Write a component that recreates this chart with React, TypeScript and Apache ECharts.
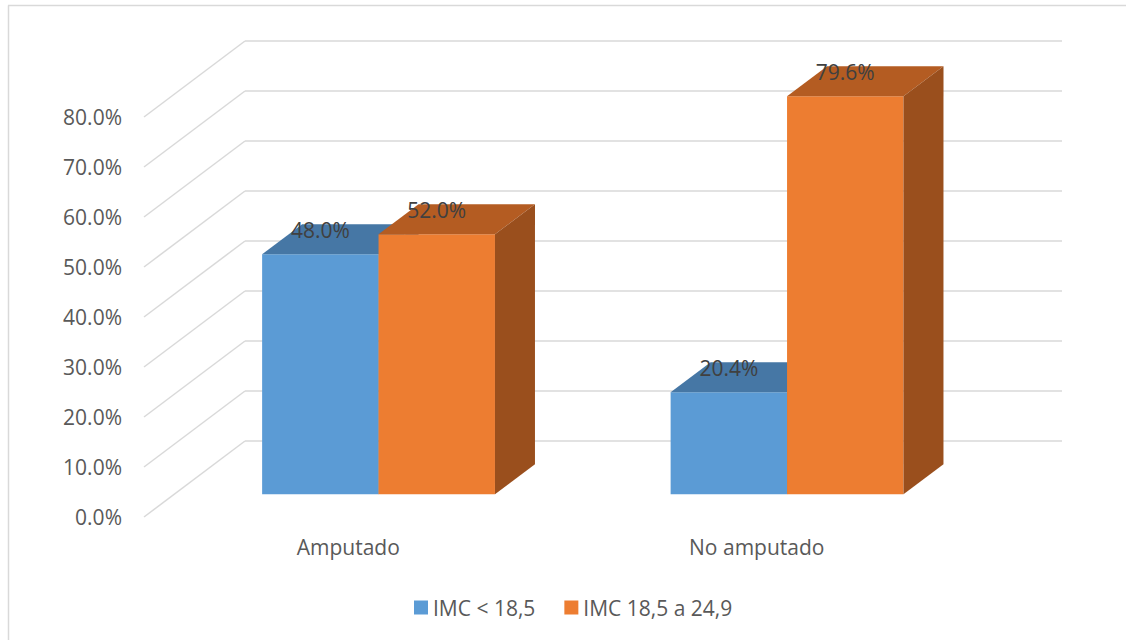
import React, { useEffect, useRef } from "react";
import * as echarts from "echarts";

const categories = ["Amputado", "No amputado"];
const seriesNames = ["IMC < 18,5", "IMC 18,5 a 24,9"];
const imcBajo = [48.0, 20.4];
const imcNormal = [52.0, 79.6];
const yTicks = [0, 10, 20, 30, 40, 50, 60, 70, 80];

const FONT = "'Open Sans', sans-serif";
const DX = 101; // full depth offset x
const DY = 76; // full depth offset y
const FRONT = 0.3; // bar front depth fraction
const BDX = 40; // bar depth x
const BDY = 30; // bar depth y
const BAR_FRAC = 0.285;

const faceColors = [
  { front: "#5B9BD5", top: "#4677A5", side: "#41709C" },
  { front: "#ED7D31", top: "#B45C22", side: "#9A4F1D" },
];

export default function App() {
  const ref = useRef<HTMLDivElement>(null);
  useEffect(() => {
    if (!ref.current) return;
    const chart = echarts.init(ref.current, null, { renderer: "svg" });

    const barSeries = (values: number[], s: number) => ({
      type: "custom",
      name: seriesNames[s],
      clip: false,
      z: 3 + s,
      itemStyle: { color: faceColors[s].front },
      encode: { x: 0, y: 1 },
      data: values.map((v, i) => [i, v]),
      renderItem: (params: any, api: any) => {
        const cat = api.value(0);
        const v = api.value(1);
        const top = api.coord([cat, v]);
        const base = api.coord([cat, 0]);
        const band = api.size([1, 0])[0];
        const barW = band * BAR_FRAC;
        const fx = FRONT * DX;
        const fy = FRONT * DY;
        const xl = top[0] + (s === 0 ? -barW : 0) + fx;
        const xr = xl + barW;
        const ty = top[1] - fy;
        const by = base[1] - fy;
        const c = faceColors[s];
        return {
          type: "group",
          children: [
            {
              type: "polygon",
              shape: { points: [[xl, ty], [xr, ty], [xr, by], [xl, by]] },
              style: { fill: c.front },
            },
            {
              type: "polygon",
              shape: { points: [[xl, ty], [xr, ty], [xr + BDX, ty - BDY], [xl + BDX, ty - BDY]] },
              style: { fill: c.top },
            },
            {
              type: "polygon",
              shape: { points: [[xr, ty], [xr + BDX, ty - BDY], [xr + BDX, by - BDY], [xr, by]] },
              style: { fill: c.side },
            },
            {
              type: "text",
              z2: 10,
              style: {
                x: (xl + xr) / 2,
                y: ty - 24,
                text: v.toFixed(1) + "%",
                fill: "#404040",
                font: `21px ${FONT}`,
                align: "center",
                verticalAlign: "middle",
              },
            },
          ],
        };
      },
    });

    const option: any = {
      animation: false,
      color: [faceColors[0].front, faceColors[1].front],
      grid: { left: 144, right: 165, top: 117, bottom: 123 },
      xAxis: {
        type: "category",
        data: categories,
        axisLine: { show: false },
        axisTick: { show: false },
        axisLabel: { margin: 19, fontSize: 21, fontFamily: FONT, color: "#595959" },
      },
      yAxis: {
        type: "value",
        min: 0,
        max: 80,
        interval: 10,
        splitLine: { show: false },
        axisLine: { show: false },
        axisTick: { show: false },
        axisLabel: {
          margin: 22,
          fontSize: 21,
          fontFamily: FONT,
          color: "#595959",
          padding: [4, 0, 0, 0],
          formatter: (v: number) => v.toFixed(1) + "%",
        },
      },
      legend: {
        data: seriesNames,
        left: 409,
        top: 592,
        icon: "rect",
        itemWidth: 14,
        itemHeight: 14,
        itemGap: 29,
        textStyle: { fontSize: 21, fontFamily: FONT, color: "#595959" },
      },
      graphic: [
        { type: "line", shape: { x1: 8.5, y1: 5.5, x2: 8.5, y2: 640 }, style: { stroke: "#D9D9D9", lineWidth: 1.5 } },
        { type: "line", shape: { x1: 8, y1: 5.5, x2: 1126, y2: 5.5 }, style: { stroke: "#D9D9D9", lineWidth: 1.5 } },
      ],
      series: [
        {
          type: "custom",
          clip: false,
          silent: true,
          z: 1,
          encode: { x: 0, y: 1 },
          data: yTicks.map((t) => [0, t]),
          renderItem: (params: any, api: any) => {
            const cs = params.coordSys;
            const y = api.coord([0, api.value(1)])[1];
            const x0 = cs.x;
            const x1 = cs.x + cs.width;
            const st = { stroke: "#D9D9D9", lineWidth: 1.5, fill: "none" };
            return {
              type: "group",
              children: [
                { type: "line", shape: { x1: x0, y1: y, x2: x0 + DX, y2: y - DY }, style: st },
                { type: "line", shape: { x1: x0 + DX, y1: y - DY, x2: x1 + DX, y2: y - DY }, style: st },
              ],
            };
          },
        },
        barSeries(imcBajo, 0),
        barSeries(imcNormal, 1),
      ],
    };
    chart.setOption(option);
    return () => chart.dispose();
  }, []);
  return (
    <div
      ref={ref}
      style={{ position: "fixed", left: 0, top: 0, width: 1126, height: 640, background: "#fff" }}
    />
  );
}
